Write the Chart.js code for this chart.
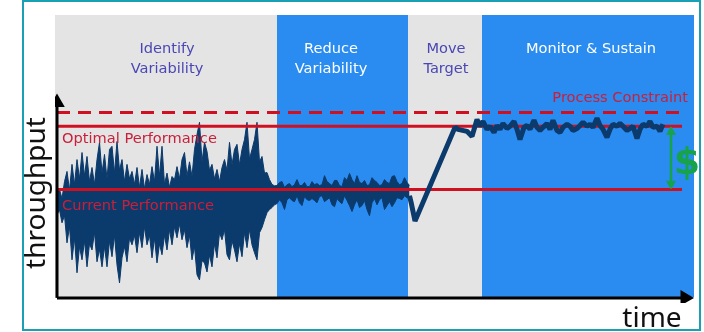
<!DOCTYPE html>
<html>
<head>
<meta charset="utf-8">
<script src="https://cdn.jsdelivr.net/npm/chart.js@4.4.1/dist/chart.umd.min.js"></script>
<style>
  html, body { margin: 0; padding: 0; background: #fff; }
</style>
</head>
<body>
<canvas id="c" width="704" height="332"></canvas>
<script>
// Improvement roadmap - throughput over time, drawn with Chart.js

// ---- phases (time ranges of the background bands) ----
const phaseNames = [['Identify', 'Variability'], ['Reduce', 'Variability'], ['Move', 'Target'], ['Monitor & Sustain']];
const phaseStart = [0, 44.4, 70.6, 85.4];
const phaseEnd = [44.4, 70.6, 85.4, 127.8];

// ---- reference levels ----
const levelNames = ['Process Constraint', 'Optimal Performance', 'Current Performance'];
const levelValues = [65.5, 60.6, 38.2];
const levelFrom = 0.4;
const levelTo = 125.4;

// ---- noisy throughput during identify / reduce (sampled every 0.5 time units from 0.4) ----
const noiseFirst = 0.4;
const noiseStep = 0.5;
const noiseHigh = [
  36.4, 38.2, 35.0, 41.0, 44.6, 38.0, 47.1, 40.0, 48.8, 42.0,
  51.3, 43.0, 49.9, 41.0, 46.0, 40.0, 48.8, 54.9, 44.0, 50.6,
  42.0, 52.4, 53.5, 44.0, 55.2, 45.0, 48.8, 41.0, 47.1, 42.0,
  44.6, 40.0, 46.0, 39.0, 45.3, 38.5, 43.5, 40.0, 46.3, 41.0,
  53.5, 43.0, 53.5, 40.0, 44.0, 39.0, 42.8, 41.7, 46.3, 42.0,
  48.8, 51.3, 43.0, 48.0, 42.8, 52.4, 57.7, 62.0, 48.0, 54.9,
  51.7, 45.0, 47.1, 42.0, 45.3, 41.0, 46.0, 48.8, 45.0, 54.9,
  47.0, 52.4, 54.2, 47.0, 52.4, 55.9, 62.0, 49.0, 52.4, 55.9,
  62.0, 48.0, 49.9, 44.0, 44.2, 41.7, 40.0, 39.5,
  39.6, 40.7, 41.0, 38.9, 39.9, 40.3, 39.2, 39.9, 41.7, 39.6,
  39.6, 40.7, 39.2, 39.2, 41.0, 39.9, 40.3, 39.6, 39.9, 43.1,
  41.0, 40.3, 39.6, 41.4, 41.4, 39.6, 39.2, 42.4, 41.4, 43.9,
  41.7, 40.3, 43.1, 40.7, 40.3, 41.4, 39.6, 39.9, 42.4, 41.4,
  40.7, 39.6, 39.9, 41.7, 40.7, 40.3, 42.8, 43.1, 41.0, 39.9,
  40.3, 42.4, 40.7, 39.6
];
const noiseLow = [
  29.3, 31.0, 26.4, 29.0, 19.3, 25.0, 13.3, 21.0, 8.7, 18.0,
  13.3, 20.0, 10.8, 19.0, 16.8, 23.0, 12.6, 17.0, 10.8, 18.0,
  10.8, 20.0, 14.4, 22.0, 11.5, 5.1, 14.0, 18.0, 12.6, 21.0,
  18.6, 22.0, 15.8, 23.0, 17.6, 25.0, 18.6, 22.0, 14.0, 21.0,
  12.2, 19.0, 15.1, 22.0, 16.8, 24.0, 18.6, 25.0, 21.1, 26.0,
  20.4, 24.0, 17.6, 22.0, 13.3, 18.0, 8.0, 6.2, 13.0, 12.2,
  9.0, 15.0, 10.8, 19.0, 14.0, 22.9, 20.4, 24.0, 15.1, 13.3,
  20.0, 16.8, 12.6, 19.0, 14.4, 23.0, 17.6, 24.0, 18.6, 15.8,
  13.3, 22.9, 24.7, 27.5, 30.0, 31.1, 31.8, 32.8,
  33.2, 34.6, 33.5, 31.1, 34.6, 35.3, 34.3, 33.9, 36.0, 33.5,
  32.5, 35.7, 34.6, 34.3, 35.0, 34.3, 33.5, 35.7, 36.0, 33.9,
  34.6, 35.3, 32.8, 32.1, 35.0, 33.9, 33.2, 36.0, 34.3, 32.5,
  30.4, 32.8, 34.6, 31.8, 32.5, 34.3, 31.1, 28.9, 33.5, 35.0,
  32.8, 34.6, 35.3, 31.1, 32.5, 33.9, 32.1, 33.5, 35.3, 35.0,
  34.6, 36.0, 35.3, 35.0
];

// ---- move target + monitor & sustain trace ----
const trendTime = [
  70.9, 71.3, 72.0, 80.0, 80.6, 82.4, 83.4, 84.0, 84.4,
  85.0, 85.6, 86.4, 87.0, 87.8, 88.4, 89.0, 89.6, 90.4, 91.0,
  91.8, 92.4, 93.0, 93.8, 94.4, 95.0, 95.8, 96.4, 97.0, 97.6,
  98.4, 99.0, 99.6, 100.4, 101.0, 101.6, 102.4, 103.0, 103.6, 104.4,
  105.0, 105.6, 106.4, 107.0, 107.6, 108.4, 109.0, 109.6, 110.4, 111.0,
  111.6, 112.4, 113.0, 113.6, 114.4, 115.0, 115.6, 116.4, 117.0, 117.6,
  118.4, 119.0, 119.6, 120.4, 121.0, 121.6
];
const trendValue = [
  36.0, 33.0, 27.0, 60.2, 59.5, 58.8, 57.0, 60.6, 63.0,
  60.6, 62.3, 59.5, 60.6, 58.4, 60.9, 59.5, 61.6, 59.8, 60.6,
  62.3, 59.5, 55.9, 60.2, 60.9, 59.5, 62.7, 60.2, 59.1, 60.2,
  61.6, 59.5, 62.7, 59.1, 58.4, 60.2, 61.3, 60.6, 59.1, 59.8,
  60.9, 62.0, 60.6, 61.3, 60.2, 63.4, 60.9, 59.5, 56.7, 59.5,
  61.3, 60.6, 61.6, 60.6, 59.1, 59.8, 60.6, 56.3, 59.5, 61.3,
  60.6, 62.3, 60.2, 60.6, 58.8, 61.3
];

// ---- axes / gap arrow extents ----
const axisOrigin = { x: 0.4, y: -0.2 };
const timeAxisEnd = 126;
const throughputAxisEnd = 69;
const gapTime = 123.2;

// colours
const GREY = '#e4e4e4';
const BLUE = '#2a8cf0';
const NAVY = '#0b3a6c';
const RED = '#cf1020';
const GREEN = '#17a34a';

const bandColors = [GREY, BLUE, GREY, BLUE];

const datasets = [];

phaseStart.forEach((s, i) => {
  datasets.push({
    data: [{ x: s, y: 100 }, { x: phaseEnd[i], y: 100 }],
    backgroundColor: bandColors[i],
    borderWidth: 0,
    pointRadius: 0,
    fill: 'origin',
    order: 20
  });
});

datasets.push({
  data: noiseHigh.map((v, i) => ({ x: noiseFirst + i * noiseStep, y: v })),
  borderColor: NAVY,
  borderWidth: 1,
  backgroundColor: NAVY,
  pointRadius: 0,
  fill: '+1',
  order: 15
});
datasets.push({
  data: noiseLow.map((v, i) => ({ x: noiseFirst + i * noiseStep, y: v })),
  borderColor: NAVY,
  borderWidth: 1,
  pointRadius: 0,
  fill: false,
  order: 15
});

levelValues.forEach((v, i) => {
  datasets.push({
    data: [{ x: levelFrom, y: v }, { x: levelTo, y: v }],
    borderColor: RED,
    borderWidth: 3,
    borderDash: i === 0 ? [13, 8] : [],
    pointRadius: 0,
    fill: false,
    order: 10
  });
});

datasets.push({
  data: trendTime.map((t, i) => ({ x: t, y: trendValue[i] })),
  borderColor: NAVY,
  borderWidth: 5,
  borderJoinStyle: 'bevel',
  pointRadius: 0,
  fill: false,
  order: 5
});

// gap arrow between current and optimal performance
datasets.push({
  data: [{ x: gapTime, y: levelValues[2] + 2 }, { x: gapTime, y: levelValues[1] - 2 }],
  borderColor: GREEN,
  borderWidth: 2.5,
  pointStyle: 'triangle',
  pointRadius: 5,
  pointRotation: [180, 0],
  pointBackgroundColor: GREEN,
  pointBorderColor: GREEN,
  pointBorderWidth: 1,
  fill: false,
  order: 3
});

// axes with arrow heads
datasets.push({
  data: [axisOrigin, { x: axisOrigin.x, y: throughputAxisEnd }],
  borderColor: '#000',
  borderWidth: 3,
  pointStyle: 'triangle',
  pointRadius: [0, 6],
  pointRotation: 0,
  pointBackgroundColor: '#000',
  pointBorderColor: '#000',
  fill: false,
  order: 1
});
datasets.push({
  data: [axisOrigin, { x: timeAxisEnd, y: axisOrigin.y }],
  borderColor: '#000',
  borderWidth: 3,
  pointStyle: 'triangle',
  pointRadius: [0, 6],
  pointRotation: 90,
  pointBackgroundColor: '#000',
  pointBorderColor: '#000',
  fill: false,
  order: 1
});

const framePlugin = {
  id: 'frame',
  beforeDraw(chart) {
    const ctx = chart.ctx;
    ctx.save();
    ctx.fillStyle = '#fff';
    ctx.fillRect(0, 0, chart.width, chart.height);
    ctx.strokeStyle = '#1aa0b4';
    ctx.lineWidth = 2;
    ctx.strokeRect(23, 1, 677, 329);
    ctx.restore();
  },
  afterDraw(chart) {
    const ctx = chart.ctx;
    ctx.save();
    ctx.textAlign = 'center';
    ctx.textBaseline = 'middle';
    ctx.font = '14.6px "DejaVu Sans"';

    // phase headers
    const headerX = [167, 331, 446, 591];
    const headerColor = ['#4a47b4', '#ffffff', '#4a47b4', '#ffffff'];
    phaseNames.forEach((lines, i) => {
      ctx.fillStyle = headerColor[i];
      lines.forEach((t, j) => ctx.fillText(t, headerX[i], 49 + j * 20));
    });

    // level labels
    ctx.fillStyle = '#c8203a';
    ctx.textAlign = 'right';
    ctx.fillText(levelNames[0], 688, 98);
    ctx.textAlign = 'left';
    ctx.fillText(levelNames[1], 62, 139);
    ctx.fillText(levelNames[2], 62, 206);

    // dollar sign
    ctx.fillStyle = GREEN;
    ctx.textAlign = 'center';
    ctx.font = 'bold 38px "DejaVu Sans"';
    ctx.fillText('$', 687, 164);

    // axis titles
    ctx.fillStyle = '#111';
    ctx.font = '28px "Noto Sans"';
    ctx.textBaseline = 'alphabetic';
    ctx.fillText('time', 652, 327);
    ctx.translate(45, 193);
    ctx.rotate(-Math.PI / 2);
    ctx.fillText('throughput', 0, 0);
    ctx.restore();
  }
};

new Chart(document.getElementById('c'), {
  type: 'line',
  data: { datasets },
  options: {
    responsive: false,
    animation: false,
    layout: { padding: { left: 55, top: 15, right: 10, bottom: 29 } },
    elements: { line: { tension: 0 } },
    plugins: {
      legend: { display: false },
      tooltip: { enabled: false },
      filler: { propagate: false }
    },
    scales: {
      x: { type: 'linear', min: 0, max: 127.8, display: false },
      y: { type: 'linear', min: -2, max: 100, display: false }
    }
  },
  plugins: [framePlugin]
});
</script>
</body>
</html>
